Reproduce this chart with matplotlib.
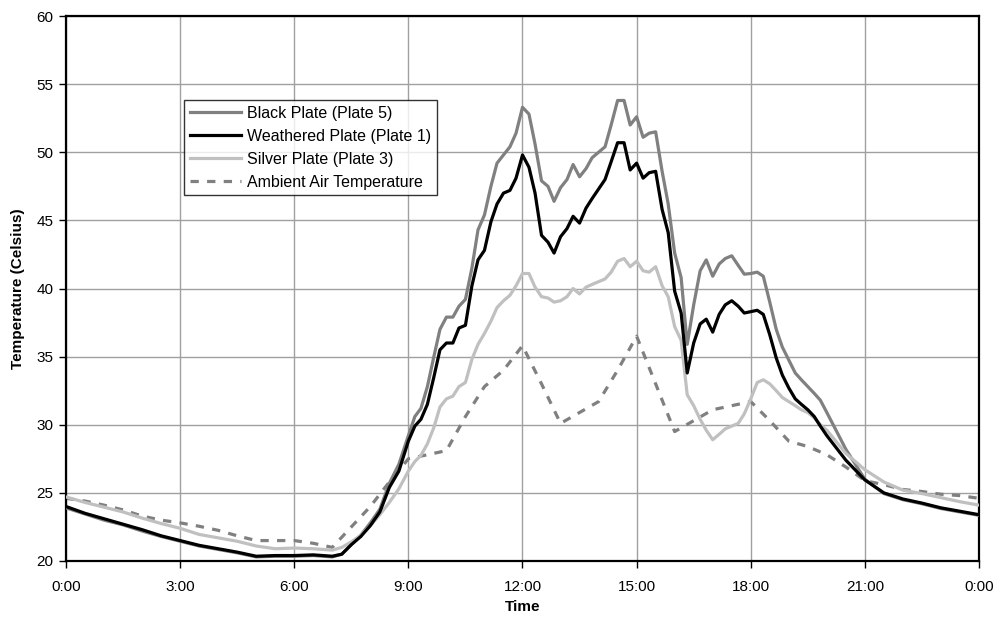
import matplotlib
matplotlib.use("Agg")
import matplotlib.pyplot as plt
from matplotlib.ticker import FixedLocator

plt.rcParams['font.family'] = ['Liberation Sans', 'DejaVu Sans']

# Time of day (hours) for the plate readings
plate_hours = [0, 0.5, 1, 1.5, 2, 2.5, 3, 3.5, 4, 4.5, 5, 5.5, 6, 6.5, 7, 7.25, 7.5, 7.75,
               8, 8.25, 8.5, 8.75, 9, 9.17, 9.33, 9.5, 9.67, 9.83, 10, 10.17, 10.33, 10.5,
               10.67, 10.83, 11, 11.17, 11.33, 11.5, 11.67, 11.83, 12, 12.17, 12.33, 12.5,
               12.67, 12.83, 13, 13.17, 13.33, 13.5, 13.67, 13.83, 14, 14.17, 14.33, 14.5,
               14.67, 14.83, 15, 15.17, 15.33, 15.5, 15.67, 15.83, 16, 16.17, 16.33, 16.5,
               16.67, 16.83, 17, 17.17, 17.33, 17.5, 17.67, 17.83, 18, 18.17, 18.33, 18.5,
               18.67, 18.83, 19, 19.17, 19.33, 19.5, 19.67, 19.83, 20, 20.5, 21, 21.5, 22,
               22.5, 23, 23.5, 24]

black_plate = [23.9, 23.45, 23.0, 22.65, 22.2, 21.8, 21.45, 21.1, 20.85, 20.6, 20.3, 20.35,
               20.35, 20.4, 20.3, 20.5, 21.2, 21.9, 22.8, 23.8, 25.7, 27.1, 29.2, 30.6, 31.2,
               32.8, 35.0, 37.0, 37.9, 37.9, 38.7, 39.2, 41.5, 44.3, 45.4, 47.5, 49.2, 49.8,
               50.4, 51.4, 53.3, 52.8, 50.6, 47.9, 47.5, 46.4, 47.4, 48.0, 49.1, 48.2, 48.8,
               49.6, 50.0, 50.4, 52.0, 53.8, 53.8, 52.0, 52.6, 51.1, 51.4, 51.5, 48.6, 46.2,
               42.6, 40.8, 35.9, 38.8, 41.3, 42.1, 40.9, 41.8, 42.2, 42.4, 41.7, 41.05, 41.1,
               41.2, 40.9, 39.0, 37.0, 35.7, 34.75, 33.8, 33.3, 32.8, 32.3, 31.8, 30.9, 28.2,
               26.0, 24.95, 24.5, 24.2, 23.85, 23.6, 23.35]

weathered_plate = [24.0, 23.5, 23.1, 22.7, 22.3, 21.85, 21.5, 21.15, 20.9, 20.65, 20.35, 20.4,
                   20.4, 20.45, 20.35, 20.5, 21.2, 21.8, 22.6, 23.6, 25.4, 26.6, 28.8, 29.9,
                   30.4, 31.5, 33.5, 35.5, 36.0, 36.0, 37.1, 37.3, 40.2, 42.1, 42.8, 44.9, 46.2,
                   47.0, 47.2, 48.1, 49.8, 48.9, 47.0, 43.9, 43.4, 42.6, 43.8, 44.4, 45.3, 44.8,
                   45.9, 46.6, 47.3, 48.0, 49.3, 50.7, 50.7, 48.7, 49.2, 48.1, 48.5, 48.6, 45.8,
                   44.1, 39.8, 38.2, 33.8, 36.0, 37.4, 37.75, 36.8, 38.1, 38.8, 39.1, 38.7, 38.2,
                   38.3, 38.4, 38.1, 36.6, 34.9, 33.65, 32.7, 31.9, 31.5, 31.1, 30.6, 29.9, 29.2,
                   27.4, 25.95, 25.0, 24.55, 24.25, 23.9, 23.65, 23.4]

silver_plate = [24.7, 24.3, 23.95, 23.6, 23.15, 22.75, 22.4, 21.95, 21.7, 21.45, 21.1, 20.9,
                20.95, 20.9, 20.8, 21.0, 21.4, 21.9, 22.6, 23.4, 24.3, 25.3, 26.6, 27.3, 27.75,
                28.6, 29.8, 31.3, 31.9, 32.1, 32.8, 33.1, 34.8, 35.9, 36.7, 37.6, 38.6, 39.1,
                39.5, 40.2, 41.1, 41.1, 40.1, 39.4, 39.3, 39.0, 39.1, 39.4, 40.0, 39.6, 40.1,
                40.3, 40.5, 40.7, 41.2, 42.0, 42.2, 41.6, 42.0, 41.3, 41.2, 41.6, 40.2, 39.4,
                37.2, 36.2, 32.2, 31.4, 30.4, 29.6, 28.9, 29.3, 29.7, 29.9, 30.1, 30.8, 31.9,
                33.1, 33.3, 33.0, 32.5, 32.0, 31.7, 31.4, 31.1, 30.9, 30.5, 30.0, 29.6, 27.9,
                26.7, 25.8, 25.2, 24.95, 24.65, 24.35, 24.1]

# Ambient air readings (half-hourly)
ambient_hours = [0, 0.5, 1, 1.5, 2, 2.5, 3, 3.5, 4, 4.5, 5, 5.5, 6, 6.5, 7, 7.5, 8, 8.5, 9,
                 9.5, 10, 10.5, 11, 11.5, 12, 12.5, 13, 13.5, 14, 14.5, 15, 15.5, 16, 16.5,
                 17, 17.5, 18, 18.5, 19, 19.5, 20, 20.5, 21, 21.5, 22, 22.5, 23, 23.5, 24]
ambient_air = [24.6, 24.4, 24.1, 23.75, 23.3, 23.0, 22.8, 22.55, 22.25, 21.85, 21.5, 21.5,
               21.5, 21.3, 21.0, 22.5, 24.0, 25.8, 27.5, 27.8, 28.1, 30.6, 32.8, 34.0, 35.8,
               33.0, 30.1, 30.9, 31.7, 34.0, 36.5, 33.0, 29.5, 30.3, 31.1, 31.4, 31.7, 30.3,
               28.8, 28.4, 27.8, 26.9, 25.9, 25.6, 25.25, 25.1, 24.9, 24.8, 24.6]

tick_hours = [0, 3, 6, 9, 12, 15, 18, 21, 24]
tick_labels = ["0:00", "3:00", "6:00", "9:00", "12:00", "15:00", "18:00", "21:00", "0:00"]
y_ticks = [20, 25, 30, 35, 40, 45, 50, 55, 60]

fig = plt.figure(figsize=(9.98, 6.21), dpi=100)
ax = fig.add_axes([66 / 998, 60 / 621, 913 / 998, 545 / 621])

ax.plot(plate_hours, black_plate, color='#808080', lw=2.3, label='Black Plate (Plate 5)',
        solid_joinstyle='round', zorder=3)
ax.plot(plate_hours, weathered_plate, color='#000000', lw=2.3, label='Weathered Plate (Plate 1)',
        solid_joinstyle='round', zorder=4)
ax.plot(plate_hours, silver_plate, color='#C0C0C0', lw=2.3, label='Silver Plate (Plate 3)',
        solid_joinstyle='round', zorder=3)
ax.plot(ambient_hours, ambient_air, color='#808080', lw=2.3, linestyle=(0, (2.6, 2.6)),
        label='Ambient Air Temperature', zorder=2)

ax.set_xlim(0, 24)
ax.set_ylim(20, 60)
ax.xaxis.set_major_locator(FixedLocator(tick_hours))
ax.set_xticklabels(tick_labels)
ax.yaxis.set_major_locator(FixedLocator(y_ticks))

ax.grid(True, color='#A0A0A0', lw=1.0, zorder=0)
ax.set_axisbelow(True)
for side in ['left', 'bottom', 'top', 'right']:
    ax.spines[side].set_color('black')
    ax.spines[side].set_linewidth(1.6)

ax.tick_params(axis='both', direction='out', length=5, width=1, color='black',
               labelsize=11)
ax.tick_params(axis='x', pad=9)
ax.tick_params(axis='y', pad=4)

ax.set_xlabel('Time', fontsize=11, fontweight='bold', labelpad=4)
ax.set_ylabel('Temperature (Celsius)', fontsize=11, fontweight='bold', labelpad=8)

leg = ax.legend(loc='upper left', bbox_to_anchor=((184 - 66) / 913, 1 - (100 - 16) / 545),
                borderaxespad=0, fontsize=11.5, frameon=True, fancybox=False,
                edgecolor='black', handlelength=3.2, handletextpad=0.4,
                labelspacing=0.5, borderpad=0.35)
leg.get_frame().set_linewidth(1.0)

fig.savefig('out.png', dpi=100)
